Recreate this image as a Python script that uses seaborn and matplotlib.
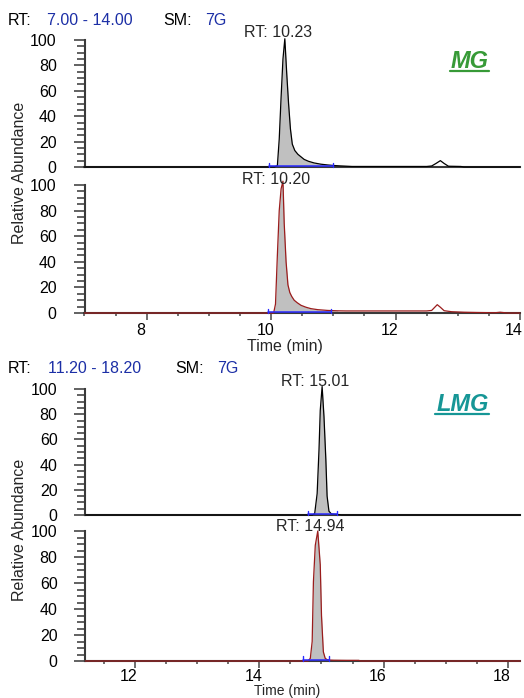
import matplotlib
matplotlib.use("Agg")
import matplotlib.pyplot as plt
import seaborn as sns
from matplotlib.ticker import MultipleLocator
from matplotlib.transforms import ScaledTranslation
from matplotlib.lines import Line2D

# ---------------- data ----------------
# MG (top block, RT 7.00 - 14.00)
mg_a_time = [7.00, 10.05, 10.10, 10.13, 10.16, 10.19, 10.22, 10.25, 10.28, 10.31, 10.34, 10.38,
             10.43, 10.48, 10.53, 10.60, 10.69, 10.80, 10.91, 11.00, 11.10, 11.22, 11.30, 12.50,
             12.58, 12.65, 12.72, 12.78, 12.85, 12.95, 13.05, 13.10, 14.00]
mg_a_int = [0, 0, 1, 22, 55, 85, 101, 74, 50, 30, 18, 13,
            10, 8, 6, 4.5, 3.2, 2.2, 1.6, 1.2, 0.9, 0.6, 0.4, 0.4,
            0.8, 2.8, 5, 2.8, 0.6, 0.5, 0.4, 0, 0]
mg_b_time = [7.00, 10.04, 10.07, 10.10, 10.13, 10.16, 10.19, 10.21, 10.24, 10.27, 10.30, 10.33,
             10.37, 10.42, 10.48, 10.56, 10.64, 10.75, 10.91, 11.07, 11.20, 12.50, 12.58, 12.63,
             12.67, 12.72, 12.78, 12.90, 13.10, 13.30, 13.60, 13.68, 13.74, 13.80, 14.00]
mg_b_int = [0, 0, 7, 45, 80, 97, 103, 70, 40, 22, 16, 13,
            10, 8, 6, 4.5, 3.4, 2.6, 2.0, 1.7, 1.6, 1.6, 2.0, 4.5,
            6.5, 4.5, 1.8, 1.0, 0.6, 0.4, 0.2, 0.6, 0.3, 0, 0]
# LMG (bottom block, RT 11.20 - 18.20)
lmg_a_time = [11.20, 14.85, 14.89, 14.93, 14.96, 14.98, 15.01, 15.04, 15.07, 15.09, 15.12, 15.16,
              15.22, 15.28, 15.32, 18.20]
lmg_a_int = [0, 0, 1, 17, 52, 83, 102, 78, 44, 15, 3, 0.8, 0.5, 0.3, 0, 0]
lmg_b_time = [11.20, 14.78, 14.82, 14.85, 14.87, 14.90, 14.94, 14.98, 15.00, 15.03, 15.06, 15.10,
              15.20, 15.40, 15.60, 15.63, 18.20]
lmg_b_int = [0, 0, 2, 15, 61, 89, 100, 74, 35, 7, 2, 0.8, 0.6, 0.5, 0.5, 0, 0]

# peak labels
mg_a_rt, mg_b_rt = "10.23", "10.20"
lmg_a_rt, lmg_b_rt = "15.01", "14.94"
# integration limits (start, end)
mg_a_limits = [9.97, 10.99]
mg_b_limits = [9.95, 10.96]
lmg_a_limits = [14.78, 15.25]
lmg_b_limits = [14.70, 15.12]
# shaded (integrated) ranges
mg_a_fill = [10.05, 11.22]
mg_b_fill = [10.04, 11.07]
lmg_a_fill = [14.85, 15.32]
lmg_b_fill = [14.78, 15.20]

mg_range = ["7.00 - 14.00", "7G"]
lmg_range = ["11.20 - 18.20", "7G"]
mg_xticks = [8, 10, 12, 14]
lmg_xticks = [12, 14, 16, 18]
y_ticks = [0, 20, 40, 60, 80, 100]

# ---------------- style ----------------
sns.set_theme(style="ticks")
plt.rcParams["font.family"] = ["Liberation Sans", "DejaVu Sans"]

W, H = 524, 698
fig = plt.figure(figsize=(W / 100, H / 100), dpi=100)


def fx(x):
    return x / W


def fy(y):
    return 1 - y / H


BLUE_TXT = "#1c2fa6"
SPINE = "#3a3a3a"
TICKC = "#555555"
FILLC = "#c0c0c0"
RED = "#9a1c1c"
INTB = "#2a2aff"
FS = 11.5


def make_axes(left, right, top, bottom):
    return fig.add_axes([fx(left), fy(bottom), fx(right) - fx(left), (bottom - top) / H])


def draw(ax, t, y, color, fill, limits, xlim, xticks, xpad=2.5):
    ax.set_facecolor("white")
    sel = [(tt >= fill[0]) and (tt <= fill[1]) for tt in t]
    ax.fill_between(t, y, 0, where=sel, color=FILLC, lw=0, zorder=2)
    sns.lineplot(x=t, y=y, ax=ax, color=color, linewidth=0.9, estimator=None,
                 sort=False, zorder=4, clip_on=False)
    # integration baseline + markers
    ax.plot(limits, [0.4, 0.4], color=INTB, lw=1.1, zorder=5, clip_on=False)
    for lim in limits:
        ax.plot([lim, lim], [0, 3.5], color=INTB, lw=1.0, zorder=5, clip_on=False)
    ax.set_xlim(*xlim)
    ax.set_ylim(0, 100)
    for s in ["top", "right"]:
        ax.spines[s].set_visible(False)
    for s in ["left", "bottom"]:
        ax.spines[s].set_color(SPINE)
        ax.spines[s].set_linewidth(1.5)
        ax.spines[s].set_zorder(3)
    ax.set_yticks(y_ticks)
    ax.yaxis.set_minor_locator(MultipleLocator(5))
    ax.tick_params(axis="y", which="major", direction="out", length=8, width=1.3,
                   color=TICKC, pad=12, labelsize=FS, labelcolor="black")
    ax.tick_params(axis="y", which="minor", direction="out", length=5.5, width=1.3,
                   color=TICKC)
    if xticks is None:
        ax.set_xticks([])
        ax.xaxis.set_minor_locator(plt.NullLocator())
    else:
        ax.set_xticks(xticks)
        ax.xaxis.set_minor_locator(MultipleLocator(0.5))
        ax.tick_params(axis="x", which="major", direction="out", length=5, width=1.2,
                       color=TICKC, pad=xpad, labelsize=FS, labelcolor="black")
        ax.tick_params(axis="x", which="minor", direction="out", length=2.5, width=1.2,
                       color=TICKC)
        off = ScaledTranslation(-6 / 100, 0, fig.dpi_scale_trans)
        for lab in ax.get_xticklabels():
            lab.set_transform(lab.get_transform() + off)
    ax.set_xlabel("")
    ax.set_ylabel("")


ax1 = make_axes(84.5, 520, 40, 167)
ax2 = make_axes(84.5, 520, 185, 313)
ax3 = make_axes(85.3, 520.4, 389, 515)
ax4 = make_axes(85.3, 520.4, 531, 661)

draw(ax1, mg_a_time, mg_a_int, "black", mg_a_fill, mg_a_limits, (7, 14), None)
draw(ax2, mg_b_time, mg_b_int, RED, mg_b_fill, mg_b_limits, (7, 14), mg_xticks)
draw(ax3, lmg_a_time, lmg_a_int, "black", lmg_a_fill, lmg_a_limits, (11.2, 18.2), None)
draw(ax4, lmg_b_time, lmg_b_int, RED, lmg_b_fill, lmg_b_limits, (11.2, 18.2), lmg_xticks,
     xpad=1.0)

# ---------------- texts ----------------


def header(ybase, rng, xs):
    fig.text(fx(xs[0]), fy(ybase), "RT:", fontsize=FS, color="black", va="baseline")
    fig.text(fx(xs[1]), fy(ybase), rng[0], fontsize=FS, color=BLUE_TXT, va="baseline")
    fig.text(fx(xs[2]), fy(ybase), "SM:", fontsize=FS, color="black", va="baseline")
    fig.text(fx(xs[3]), fy(ybase), rng[1], fontsize=FS, color=BLUE_TXT, va="baseline")


header(25, mg_range, [8, 47, 163, 205])
header(373, lmg_range, [8, 48, 175, 217])

fig.text(fx(278.5), fy(37), "RT: " + mg_a_rt, fontsize=FS, ha="center", va="baseline")
fig.text(fx(276.5), fy(183.5), "RT: " + mg_b_rt, fontsize=FS, ha="center", va="baseline")
fig.text(fx(314.8), fy(386.5), "RT: " + lmg_a_rt, fontsize=FS, ha="center", va="baseline")
fig.text(fx(310.3), fy(531), "RT: " + lmg_b_rt, fontsize=FS, ha="center", va="baseline")

fig.text(fx(20), fy(172.5), "Relative Abundance", fontsize=FS, rotation=90,
         ha="center", va="center")
fig.text(fx(20), fy(530), "Relative Abundance", fontsize=FS, rotation=90,
         ha="center", va="center")

fig.text(fx(285), fy(339), "Time (min)", fontsize=FS, ha="center", va="top")
fig.text(fx(287), fy(698), "Time (min)", fontsize=10, ha="center", va="bottom")

# tags with underline
MG_C = "#379a37"
LMG_C = "#169696"
fig.text(fx(489), fy(68), "MG", fontsize=17, color=MG_C, ha="right", va="baseline",
         fontweight="bold", fontstyle="italic")
fig.lines.append(Line2D([fx(450), fx(489)], [fy(70.5), fy(70.5)], color=MG_C, lw=1.6,
                        transform=fig.transFigure))
fig.text(fx(489), fy(411), "LMG", fontsize=17, color=LMG_C, ha="right", va="baseline",
         fontweight="bold", fontstyle="italic")
fig.lines.append(Line2D([fx(435), fx(489)], [fy(413.5), fy(413.5)], color=LMG_C, lw=1.6,
                        transform=fig.transFigure))

fig.savefig("out.png", dpi=100)
